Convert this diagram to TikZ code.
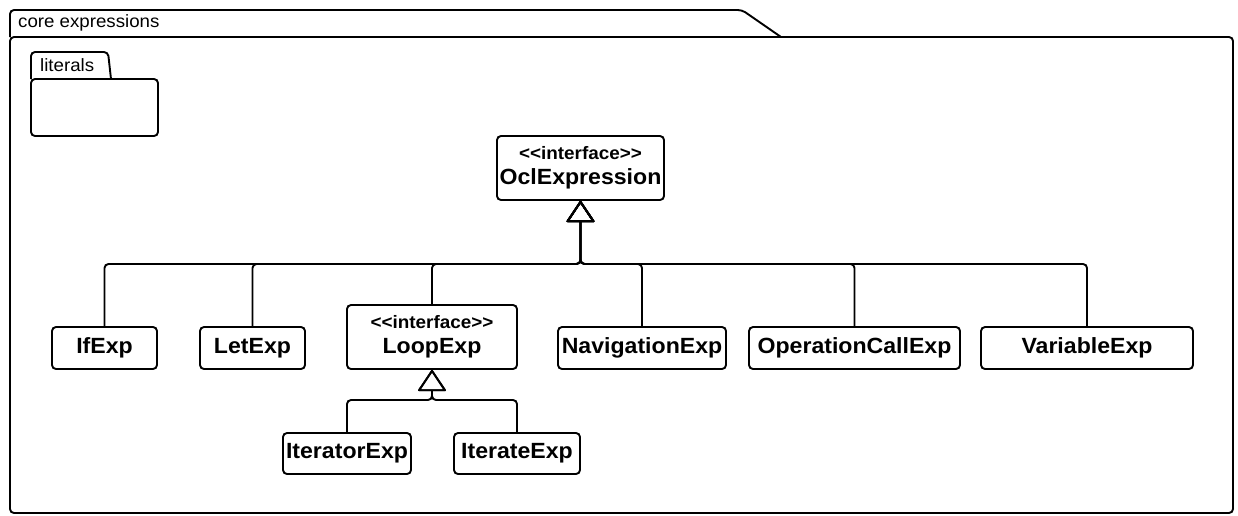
\documentclass[tikz,border=0pt]{standalone}
\usepackage{fontspec}
\setmainfont{Liberation Sans}[FakeStretch=1.05]
\usetikzlibrary{arrows.meta}
\newcommand{\namefnt}{\fontsize{22}{25}\selectfont\bfseries}
\newcommand{\stereofnt}{\fontsize{18}{20}\selectfont\bfseries}
\newcommand{\pkgfnt}{\fontsize{17.8}{20}\selectfont}
\tikzset{
  x=1pt, y=-1pt,
  umlbox/.style={draw, line width=1.9pt, rounded corners=4pt, inner sep=0pt, align=center, font=\namefnt, fill=white},
  pkgline/.style={draw, line width=1.9pt, rounded corners=4pt},
  gen/.style={line width=1.9pt, rounded corners=4pt, -{Triangle[open, length=22pt, width=29pt, round]}},
  pkglabel/.style={anchor=west, inner sep=0pt, font=\pkgfnt},
}
\begin{document}
\begin{tikzpicture}
\useasboundingbox (0,0) rectangle (1238,515);
% outer package
\draw[pkgline] (10,37) -- (10,10) -- (742,10) -- (781,37);
\draw[pkgline] (10,37) rectangle (1233,513);
\node[pkglabel] (title) at (18,23) {core expressions};
% literals package
\draw[pkgline] (31,79) -- (31,52) -- (108,52) -- (111,79);
\draw[pkgline] (31,79) rectangle (158,136);
\node[pkglabel] (lit) at (40,65) {literals};
% classes
\node[umlbox, minimum width=167pt, minimum height=64pt] (ocl) at (580.5,168) {{\stereofnt <{}<interface>{}>}\\[0pt]OclExpression};
\node[umlbox, minimum width=105pt, minimum height=42pt] (ifexp) at (104.5,348) {IfExp};
\node[umlbox, minimum width=105pt, minimum height=42pt] (letexp) at (252.5,348) {LetExp};
\node[umlbox, minimum width=170pt, minimum height=64pt] (loopexp) at (432,337) {{\stereofnt <{}<interface>{}>}\\[0pt]LoopExp};
\node[umlbox, minimum width=168pt, minimum height=42pt] (navexp) at (642,348) {NavigationExp};
\node[umlbox, minimum width=211pt, minimum height=42pt] (opexp) at (854.5,348) {OperationCallExp};
\node[umlbox, minimum width=212pt, minimum height=42pt] (varexp) at (1087,348) {VariableExp};
\node[umlbox, minimum width=128pt, minimum height=41pt] (itorexp) at (347,453.5) {IteratorExp};
\node[umlbox, minimum width=126pt, minimum height=41pt] (iterexp) at (517,453.5) {IterateExp};
% junctions
\coordinate (bus) at (580.5,264);
\coordinate (lbus) at (432,400);
% generalisations
\foreach \c in {ifexp,letexp,loopexp,navexp,opexp,varexp}
  \draw[gen] (\c.north) |- (bus) -- (ocl.south);
\foreach \c in {itorexp,iterexp}
  \draw[gen] (\c.north) |- (lbus) -- (loopexp.south);
\end{tikzpicture}
\end{document}
